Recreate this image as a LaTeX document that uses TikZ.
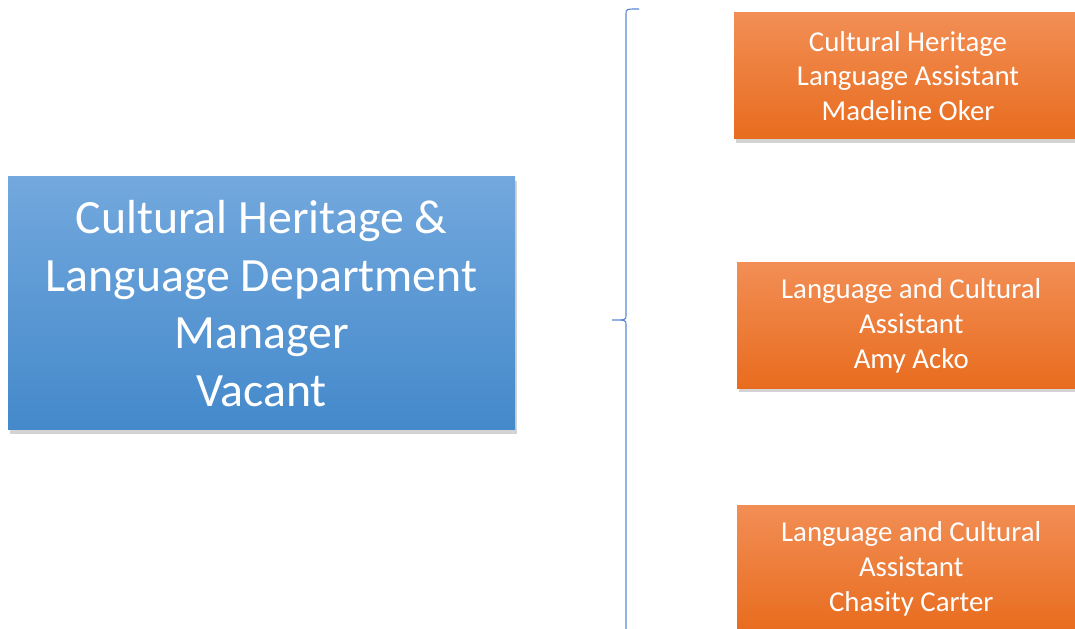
\documentclass[tikz,border=0pt]{standalone}
\usepackage{fontspec}
\setmainfont{Carlito}
\usetikzlibrary{shadows}

\definecolor{mgrtop}{HTML}{72A8DD}
\definecolor{mgrbot}{HTML}{4489CB}
\definecolor{asttop}{HTML}{F28E55}
\definecolor{astbot}{HTML}{E86C1E}
\definecolor{bracecol}{HTML}{5B85D0}

\tikzset{
  mgrbox/.style={rectangle, top color=mgrtop, bottom color=mgrbot, text=white,
    minimum width=12.675cm, minimum height=6.325cm, inner sep=0pt, align=center,
    font=\fontsize{34}{41}\selectfont,
    drop shadow={opacity=0.35, shadow xshift=1.5pt, shadow yshift=-2.5pt}},
  astbox/.style={rectangle, top color=asttop, bottom color=astbot, text=white,
    minimum width=8.7cm, minimum height=3.15cm, inner sep=0pt, align=center,
    font=\fontsize{20.5}{24.8}\selectfont,
    drop shadow={opacity=0.35, shadow xshift=1.5pt, shadow yshift=-2.5pt}}
}

\begin{document}
\begin{tikzpicture}
\useasboundingbox (0,0) rectangle (26.875,15.7);
\node[mgrbox] (mgr) at (6.5375,8.1125) {Cultural Heritage \&\\Language Department\\Manager\\Vacant};
\node[astbox] (ast1) at (22.7,13.8) {Cultural Heritage\\Language Assistant\\Madeline Oker};
\node[astbox] (ast2) at (22.78,7.5625) {Language and Cultural\\Assistant\\Amy Acko};
\node[astbox] (ast3) at (22.78,1.4875) {Language and Cultural\\Assistant\\Chasity Carter};
% brace grouping the assistants
\coordinate (bracetop) at (15.975,15.475);
\coordinate (bracetip) at (15.3,7.7);
\coordinate (bracebot) at (15.975,-0.2);
\draw[bracecol, line width=0.8pt]
  (bracetop) .. controls (15.65,15.475) .. (15.65,15.35)
  -- (15.65,7.82) .. controls (15.65,7.7) .. (bracetip)
  .. controls (15.65,7.7) .. (15.65,7.58)
  -- (15.65,-0.075) .. controls (15.65,-0.2) .. (bracebot);
\end{tikzpicture}
\end{document}
